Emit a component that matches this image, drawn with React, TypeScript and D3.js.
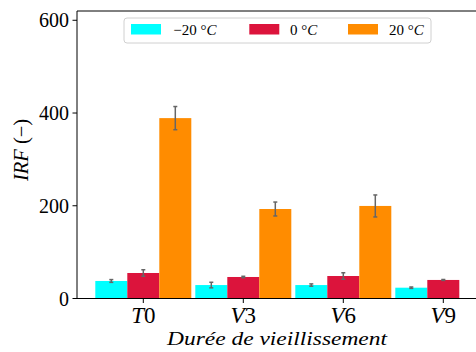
import React from "react";
import * as d3 from "d3";

const categories = ["T0", "V3", "V6", "V9"];
const seriesLabels = ["−20", "0", "20"];
const colors = ["#00FFFF", "#DC143C", "#FF8C00"];
const valsM20 = [37.8, 29, 29, 23.3];
const valsZero = [55, 46.4, 48.5, 40];
const valsP20 = [389, 193, 199.6, NaN];
const errM20 = [3, 6, 2.5, 1.5];
const errZero = [7, 1.5, 7, 1];
const errP20 = [25, 15, 23.7, 0];
const yTicks = [0, 200, 400, 600];

const W = 476, H = 352;
const left = 77, right = 480, top = 11, bottom = 298.5;
const FONT = "'Liberation Serif', 'DejaVu Serif', serif";

export default function App() {
  const x = d3.scaleLinear().domain([-0.663, 3.367]).range([left, right]);
  const y = d3.scaleLinear().domain([0, 620]).range([bottom, top]);
  const barW = 0.32;
  const series = [
    { vals: valsM20, errs: errM20, off: -0.32 },
    { vals: valsZero, errs: errZero, off: 0 },
    { vals: valsP20, errs: errP20, off: 0.32 },
  ];
  const pxW = x(barW) - x(0);
  return (
    <svg width={W} height={H} style={{ position: "absolute", left: 0, top: 0 }} fontFamily={FONT}>
      <rect x={0} y={0} width={W} height={H} fill="#fff" />
      {series.map((s, si) =>
        s.vals.map((v, i) =>
          isNaN(v) ? null : (
            <rect key={`b${si}-${i}`} x={x(i + s.off) - pxW / 2} y={y(v)} width={pxW} height={y(0) - y(v)} fill={colors[si]} />
          )
        )
      )}
      {series.map((s, si) =>
        s.vals.map((v, i) => {
          if (isNaN(v)) return null;
          const cx = x(i + s.off);
          const e = s.errs[i];
          return (
            <g key={`e${si}-${i}`} stroke="#666" strokeWidth={1.5}>
              <line x1={cx} x2={cx} y1={y(v - e)} y2={y(v + e)} />
              <line x1={cx - 2} x2={cx + 2} y1={y(v - e)} y2={y(v - e)} />
              <line x1={cx - 2} x2={cx + 2} y1={y(v + e)} y2={y(v + e)} />
            </g>
          );
        })
      )}
      {/* spines */}
      <line x1={left} x2={left} y1={top} y2={bottom} stroke="#000" strokeWidth={1} />
      <line x1={left} x2={W} y1={top} y2={top} stroke="#000" strokeWidth={1} />
      <line x1={left} x2={W} y1={bottom} y2={bottom} stroke="#000" strokeWidth={1} />
      {/* y ticks */}
      {yTicks.map((t) => (
        <g key={`yt${t}`}>
          <line x1={left - 4.5} x2={left} y1={y(t)} y2={y(t)} stroke="#000" strokeWidth={1} />
          <text x={left - 8} y={y(t) + 7} fontSize={20} textAnchor="end" fill="#000">{t}</text>
        </g>
      ))}
      {/* x ticks */}
      {categories.map((c, i) => (
        <g key={`xt${c}`}>
          <line x1={x(i)} x2={x(i)} y1={bottom} y2={bottom + 4.5} stroke="#000" strokeWidth={1} />
          <text x={x(i)} y={323} fontSize={23} textAnchor="middle" fill="#000">
            <tspan fontStyle="italic">{c[0]}</tspan>
            <tspan>{c.slice(1)}</tspan>
          </text>
        </g>
      ))}
      {/* axis labels */}
      <text x={277} y={345} fontSize={19} fontStyle="italic" textAnchor="middle" fill="#000" textLength={220} lengthAdjust="spacingAndGlyphs">Durée de vieillissement</text>
      <text transform={`translate(28,150) rotate(-90)`} fontSize={20.5} textAnchor="middle" fill="#000">
        <tspan fontStyle="italic">IRF</tspan>
        <tspan> (−)</tspan>
      </text>
      {/* legend */}
      <rect x={124} y={18} width={307} height={25} rx={3} fill="#fff" fillOpacity={0.8} stroke="#d0d0d0" strokeWidth={1} />
      {[131, 249.3, 348].map((px, si) => (
        <g key={`lg${si}`}>
          <rect x={px} y={24} width={30} height={10.5} fill={colors[si]} />
          <text x={[173.3, 290, 389][si]} y={35} fontSize={15} fill="#000">
            <tspan>{seriesLabels[si]} °</tspan>
            <tspan fontStyle="italic">C</tspan>
          </text>
        </g>
      ))}
    </svg>
  );
}
